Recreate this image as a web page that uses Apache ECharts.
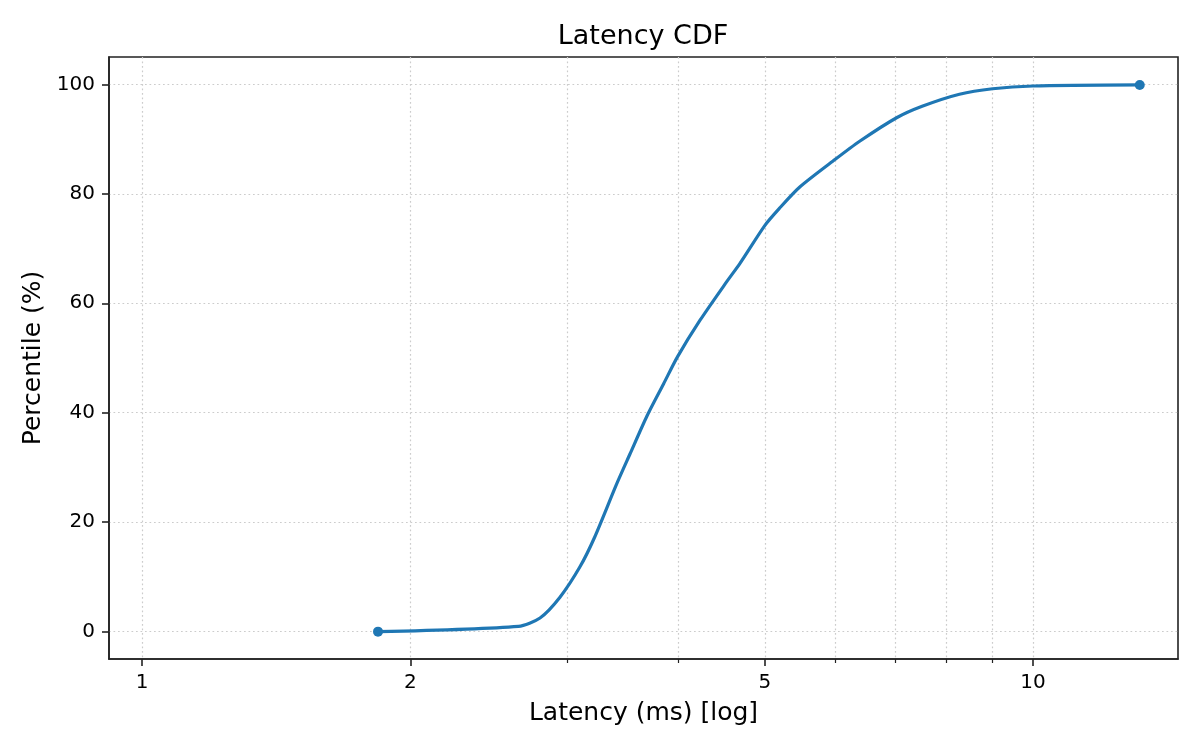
<!DOCTYPE html>
<html lang="en">
<head>
    <meta charset="utf-8"/>
    <title>Latency CDF</title>
    <script src="https://cdn.jsdelivr.net/npm/echarts@6/dist/echarts.min.js"></script>
    <style>
        html, body { margin: 0; padding: 0; background: #fff; }
        #chartCdf { width: 1200px; height: 750px; }
    </style>
</head>
<body>
<div id="chartCdf"></div>
<script>
    // values
    var latencyMs = [1.84, 2.645, 2.797, 2.945, 3.10, 3.22, 3.41, 3.53, 3.69, 3.85, 3.99, 4.23, 4.53, 4.69, 5.00, 5.19, 5.47, 6.00, 6.39, 7.03, 7.51, 8.27, 9.01, 10.0, 13.18];
    var percentile = [0, 0.97, 2.5, 6.3, 11.8, 17.2, 27.0, 32.5, 39.5, 45.3, 50.2, 56.9, 63.9, 67.3, 74.2, 77.3, 81.2, 86.3, 89.6, 93.9, 96.0, 98.2, 99.2, 99.7, 99.9];
    var xMajorTicks = [1, 2, 5, 10];
    var xMinorTicks = [3, 4, 6, 7, 8, 9];
    var yTicks = [0, 20, 40, 60, 80, 100];

    var log10 = function (v) { return Math.log(v) / Math.LN10; };
    var xMin = log10(0.918), xMax = log10(14.55);

    var font = 'DejaVu Sans';
    var gridStyle = { color: '#cccccc', width: 1.2, type: [1.7, 2.8] };
    var spine = { color: '#222', width: 1.6 };

    // points on the log axis, markers only on both ends
    var points = [];
    for (var i = 0; i < latencyMs.length; i++) {
        var item = { value: [log10(latencyMs[i]), percentile[i]] };
        item.symbol = (i === 0 || i === latencyMs.length - 1) ? 'circle' : 'none';
        points.push(item);
    }

    var chartCdf = echarts.init(document.getElementById('chartCdf'));
    var option = {
        animation: false,
        backgroundColor: '#fff',
        title: {
            text: 'Latency CDF',
            left: 643,
            top: 23,
            textAlign: 'center',
            padding: 0,
            textStyle: { fontFamily: font, fontSize: 27, fontWeight: 'normal', color: '#000' }
        },
        grid: {
            left: 109, right: 22, top: 57, bottom: 91,
            show: true, borderColor: '#222', borderWidth: 1.6,
            containLabel: false, outerBoundsMode: 'none'
        },
        xAxis: [{
            type: 'value',
            position: 'bottom',
            min: xMin,
            max: xMax,
            name: 'Latency (ms) [log]',
            nameLocation: 'middle',
            nameGap: 42,
            nameTextStyle: { fontFamily: font, fontSize: 25, color: '#000' },
            axisLine: { show: true, onZero: false, lineStyle: spine },
            axisTick: { show: true, customValues: xMajorTicks.map(log10), length: 7, lineStyle: spine },
            axisLabel: {
                customValues: xMajorTicks.map(log10),
                margin: 14,
                fontFamily: font, fontSize: 20, color: '#000',
                formatter: function (v) { return String(Math.round(Math.pow(10, v))); }
            },
            splitLine: { show: true, lineStyle: gridStyle }
        }, {
            // minor ticks of the log axis
            type: 'value',
            position: 'bottom',
            min: xMin,
            max: xMax,
            axisLine: { show: false, onZero: false },
            axisTick: { show: true, customValues: xMinorTicks.map(log10), length: 4, lineStyle: { color: '#222', width: 1.2 } },
            axisLabel: { show: false },
            splitLine: { show: true, lineStyle: gridStyle }
        }],
        yAxis: {
            type: 'value',
            min: -5,
            max: 105,
            name: 'Percentile (%)',
            nameLocation: 'middle',
            nameGap: 62,
            nameTextStyle: { fontFamily: font, fontSize: 25, color: '#000' },
            axisLine: { show: true, onZero: false, lineStyle: spine },
            axisTick: { show: true, customValues: yTicks, length: 7, lineStyle: spine },
            axisLabel: { customValues: yTicks, margin: 14, fontFamily: font, fontSize: 20, color: '#000' },
            splitLine: { show: true, lineStyle: gridStyle }
        },
        series: [{
            type: 'line',
            xAxisIndex: 0,
            yAxisIndex: 0,
            data: points,
            smooth: 0.25,
            showSymbol: true,
            showAllSymbol: true,
            symbolSize: 10,
            lineStyle: { color: '#1f77b4', width: 3.2 },
            itemStyle: { color: '#1f77b4' }
        }]
    };
    chartCdf.setOption(option);
</script>
</body>
</html>
